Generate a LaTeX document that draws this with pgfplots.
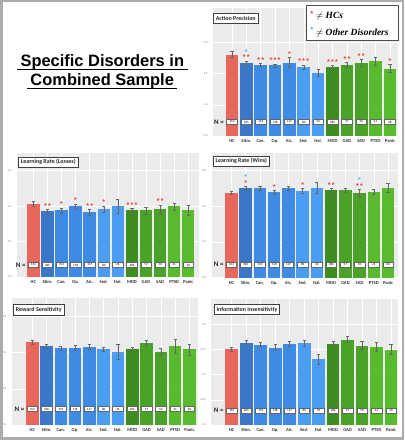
\documentclass[border=0pt]{standalone}
\usepackage{pgfplots}
\usepackage{pgfplotstable}
\pgfplotsset{compat=1.18}
\usepackage{fontspec}
\setmainfont{Carlito}
\newfontfamily\titlefont{Liberation Sans}
\newfontfamily\legfont{Liberation Serif}
\newfontfamily\starfont{Liberation Sans}

\definecolor{bggray}{HTML}{EBEBEB}
\definecolor{c0}{HTML}{E9665C}
\definecolor{c1}{HTML}{3B77C7}
\definecolor{c2}{HTML}{3E8AE5}
\definecolor{c3}{HTML}{3E8AE5}
\definecolor{c4}{HTML}{3E8AE5}
\definecolor{c5}{HTML}{4A9DF3}
\definecolor{c6}{HTML}{4A9DF3}
\definecolor{c7}{HTML}{3F8D20}
\definecolor{c8}{HTML}{4AA228}
\definecolor{c9}{HTML}{4AA228}
\definecolor{c10}{HTML}{58BB2D}
\definecolor{c11}{HTML}{58BB2D}
\definecolor{sred}{HTML}{E53935}
\definecolor{scyan}{HTML}{38B4E8}

\pgfplotstableread{
x y e
0 2.61 0.09
1 2.33 0.075
2 2.27 0.05
3 2.26 0.05
4 2.35 0.16
5 2.20 0.07
6 2.02 0.11
7 2.21 0.05
8 2.28 0.07
9 2.35 0.10
10 2.40 0.12
11 2.16 0.13
}\tAP
\pgfplotstableread{
x y e
0 0.413 0.012
1 0.371 0.010
2 0.376 0.015
3 0.398 0.015
4 0.365 0.015
5 0.384 0.018
6 0.398 0.040
7 0.376 0.010
8 0.376 0.020
9 0.382 0.025
10 0.398 0.020
11 0.376 0.030
}\tLRL
\pgfplotstableread{
x y e
0 0.476 0.010
1 0.505 0.008
2 0.500 0.010
3 0.480 0.012
4 0.502 0.012
5 0.487 0.015
6 0.505 0.030
7 0.490 0.010
8 0.489 0.012
9 0.473 0.020
10 0.480 0.015
11 0.505 0.025
}\tLRW
\pgfplotstableread{
x y e
0 4.59 0.12
1 4.35 0.10
2 4.25 0.10
3 4.27 0.12
4 4.33 0.12
5 4.20 0.12
6 4.04 0.40
7 4.18 0.10
8 4.53 0.15
9 4.06 0.20
10 4.35 0.40
11 4.18 0.30
}\tRS
\pgfplotstableread{
x y e
0 0.753 0.020
1 0.820 0.020
2 0.800 0.020
3 0.770 0.030
4 0.810 0.025
5 0.815 0.030
6 0.655 0.050
7 0.810 0.020
8 0.850 0.030
9 0.790 0.040
10 0.780 0.045
11 0.750 0.050
}\tII

\newcommand\one{*}
\newcommand\two{*\kern1.3bp*}
\newcommand\three{*\kern1.3bp*\kern1.3bp*}

\pgfplotsset{
 panel/.style={
  scale only axis, anchor=south west, clip=false,
  axis background/.style={fill=bggray},
  axis line style={draw=none},
  major tick length=0pt, minor tick length=0pt,
  ymajorgrids, xmajorgrids,
  major grid style={white, line width=0.5bp},
  xtick={0,...,11},
  xticklabels={HC,Stim.,Can.,Op.,Alc.,Sed.,Hal.,MDD,GAD,SAD,PTSD,Panic},
  xticklabel style={font=\bfseries\fontsize{4.6}{5}\selectfont, text=black!80, yshift=-3bp, inner sep=0.5bp},
  yticklabel style={font=\fontsize{2.8}{3}\selectfont, text=black!55, xshift=-2bp},
  ymin=0,
 },
}
\tikzset{
 nbox/.style={anchor=center, draw=black!60, fill=white, line width=0.5bp, inner sep=0.3bp,
  minimum width=10.5bp, minimum height=5bp, font=\fontsize{3.2}{3.5}\selectfont, text=black},
 ptitle/.style={anchor=north west, draw=black!75, line width=0.6bp, fill=white, inner xsep=2.2bp,
  inner ysep=1.5bp, minimum height=10.5bp, font=\bfseries\fontsize{6}{6}\selectfont, text=black!85},
}

\newcommand\bars[1]{%
 \pgfplotsinvokeforeach{0,...,11}{%
  \addplot[ybar, bar width=0.88, bar shift=0pt, fill=c##1, draw=none,
   x filter/.code={\ifnum\coordindex=##1\relax\else\def\pgfmathresult{}\fi},
   error bars/.cd, y dir=both, y explicit,
   error bar style={line width=0.45bp, draw=black!60},
   error mark options={rotate=90, mark size=1.6bp, line width=0.45bp, draw=black!60}]
   table[x=x, y=y, y error=e] {#1};
 }}

\newcommand\stars[3]{%
 \addplot[draw=none, mark=none, nodes near coords, point meta=explicit symbolic,
  every node near coord/.append style={anchor=south, inner sep=0pt, text=#1,
   font=\starfont\bfseries\fontsize{7}{7}\selectfont, yshift=#2}] coordinates {#3};}

\newcommand\Nboxes[1]{%
 \addplot[draw=none, mark=none, nodes near coords, point meta=explicit symbolic,
  every node near coord/.append style={nbox}] coordinates {(0,#1)[153] (1,#1)[265] (2,#1)[153] (3,#1)[118] (4,#1)[117] (5,#1)[80] (6,#1)[34] (7,#1)[186] (8,#1)[57] (9,#1)[50] (10,#1)[41] (11,#1)[28]};
 \node[font=\bfseries\fontsize{7}{7}\selectfont, anchor=center, text=black!85] at (axis cs:-0.9,#1) {N =};}

\begin{document}
\begin{tikzpicture}[x=1bp,y=1bp]
\useasboundingbox (0,0) rectangle (404,440);
\fill[white] (0,0) rectangle (404,440);

% title
\node[anchor=base, font=\titlefont\bfseries\fontsize{16.5}{16.5}\selectfont] (t1) at (102.3,373.3) {Specific Disorders in};
\node[anchor=base, font=\titlefont\bfseries\fontsize{16.5}{16.5}\selectfont] (t2) at (102.2,354) {Combined Sample};
\draw[line width=1.3bp] ([yshift=-2.6bp]t1.base west) -- ([yshift=-2.6bp]t1.base east);
\draw[line width=1.3bp] ([yshift=-2.6bp]t2.base west) -- ([yshift=-2.6bp]t2.base east);

% Action Precision
\begin{axis}[panel, at={(213bp,304bp)}, width=185bp, height=128bp,
  xmin=-1.32, xmax=11.56, ymax=4.1, ytick={0,1,2,3}, yticklabels={0.0,1.0,2.0,3.0}]
 \bars{\tAP}
 \stars{sred}{1bp}{(1,2.405)[\two] (2,2.32)[\two] (3,2.31)[\three] (4,2.51)[\one] (5,2.27)[\three] (7,2.26)[\three] (8,2.35)[\two] (9,2.45)[\two] (11,2.29)[\one]}
 \stars{scyan}{6.5bp}{(1,2.405)[\one]}
 \Nboxes{0.45}
 \node[ptitle, xshift=0.3bp, yshift=-5bp] at (rel axis cs:0,1) {Action Precision};
\end{axis}

% Learning Rate (Losses)
\begin{axis}[panel, at={(17bp,163bp)}, width=182bp, height=124bp,
  xmin=-1.16, xmax=11.76, ymax=0.7, ytick={0,0.2,0.4,0.6}, yticklabels={0.0,0.2,0.4,0.6}]
 \bars{\tLRL}
 \stars{sred}{1bp}{(1,0.381)[\two] (2,0.391)[\one] (3,0.413)[\one] (4,0.380)[\two] (5,0.402)[\one] (7,0.386)[\three] (9,0.407)[\two]}
 \Nboxes{0.068}
 \node[ptitle, xshift=1.3bp, yshift=-3.7bp] at (rel axis cs:0,1) {Learning Rate (Losses)};
\end{axis}

% Learning Rate (Wins)
\begin{axis}[panel, at={(211.7bp,162.3bp)}, width=186.6bp, height=125bp,
  xmin=-1.39, xmax=11.72, ymax=0.7, ytick={0,0.2,0.4,0.6}, yticklabels={0.0,0.2,0.4,0.6}]
 \bars{\tLRW}
 \stars{sred}{0.5bp}{(1,0.513)[\one] (3,0.492)[\one] (5,0.502)[\one] (7,0.500)[\two] (9,0.493)[\two]}
 \stars{scyan}{6.5bp}{(1,0.513)[\one] (9,0.493)[\one]}
 \Nboxes{0.075}
 \node[ptitle, xshift=1.3bp, yshift=-3bp] at (rel axis cs:0,1) {Learning Rate (Wins)};
\end{axis}

% Reward Sensitivity
\begin{axis}[panel, at={(11.7bp,15bp)}, width=186.3bp, height=126.7bp,
  xmin=-1.44, xmax=11.6, ymax=7, ytick={0,2,4,6}, yticklabels={0.0,2.0,4.0,6.0}]
 \bars{\tRS}
 \Nboxes{0.88}
 \node[ptitle, xshift=1.6bp, yshift=-5.7bp] at (rel axis cs:0,1) {Reward Sensitivity};
\end{axis}

% Information Insensitivity
\begin{axis}[panel, at={(211bp,15bp)}, width=187.3bp, height=125.7bp,
  xmin=-1.43, xmax=11.5, ymax=1.25, ytick={0,0.25,0.5,0.75,1}, yticklabels={0.0,0.25,0.5,0.75,1.0}]
 \bars{\tII}
 \Nboxes{0.142}
 \node[ptitle, xshift=3bp, yshift=-4.7bp] at (rel axis cs:0,1) {Information Insensitivity};
\end{axis}

% legend
\draw[black!70, fill=white, line width=0.8bp] (306,400) rectangle (398,435);
\node[anchor=center, inner sep=0pt, text=sred, font=\starfont\bfseries\fontsize{7.5}{7.5}\selectfont] at (311.7,426.5) {*};
\node[anchor=base west, inner sep=0pt, font=\legfont\bfseries\itshape\fontsize{9.5}{9.5}\selectfont] at (316,421.5) {$\neq$ HCs};
\node[anchor=center, inner sep=0pt, text=scyan, font=\starfont\bfseries\fontsize{7.5}{7.5}\selectfont] at (311.7,409.7) {*};
\node[anchor=base west, inner sep=0pt, font=\legfont\bfseries\itshape\fontsize{9.5}{9.5}\selectfont] at (316,404.5) {$\neq$ Other Disorders};

% outer frame
\draw[gray!65, line width=2.5bp] (1.25,1.25) rectangle (402.75,438.75);
\end{tikzpicture}
\end{document}
